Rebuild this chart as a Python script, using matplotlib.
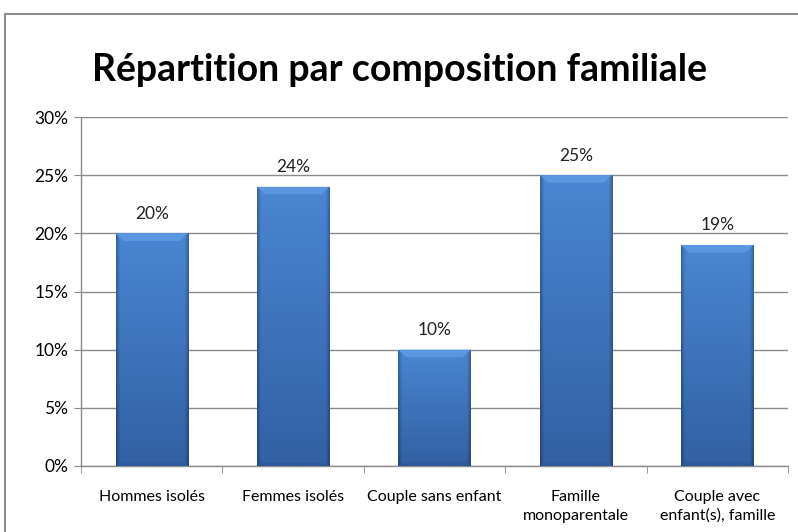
import matplotlib
matplotlib.use("Agg")
import matplotlib.pyplot as plt
import numpy as np
from matplotlib.patches import Rectangle, Polygon
from matplotlib.ticker import FuncFormatter, MultipleLocator

categories = ["Hommes isolés", "Femmes isolés", "Couple sans enfant",
              "Famille\nmonoparentale", "Couple avec\nenfant(s), famille"]
values = [20, 24, 10, 25, 19]
title = "Répartition par composition familiale"

plt.rcParams['font.family'] = ['Lato', 'DejaVu Sans']

W, H = 798, 532
fig = plt.figure(figsize=(W / 100, H / 100), dpi=100)
fig.patch.set_facecolor("white")

# outer chart border (partially cropped)
fig.patches.append(Rectangle((5 / W, -0.1), 1.2, 1 - 14 / H + 0.1,
                             transform=fig.transFigure, fill=False,
                             edgecolor="#8c8c8c", linewidth=1.5))

ax = fig.add_axes([81 / W, 1 - 466 / H, (788 - 81) / W, (466 - 117) / H])
x = np.arange(len(categories))
bars = ax.bar(x, values, width=0.51, color="#3d74c0", zorder=3)

ax.set_xlim(-0.5, len(categories) - 0.5)
ax.set_ylim(0, 30)

# gradient fill for bars
ny, nx = 64, 64
tv = np.linspace(0, 1, ny)[:, None]       # 0 top, 1 bottom
th = np.linspace(-1, 1, nx)[None, :]
top_c = np.array([74, 134, 210]) / 255
bot_c = np.array([50, 96, 164]) / 255
base = top_c[None, None, :] * (1 - tv[..., None]) + bot_c[None, None, :] * tv[..., None]
edge = np.clip((np.abs(th) - 0.9) / 0.1, 0, 1)[..., None]
img = base * (1 - 0.25 * edge)
bev_h = 0.65   # bevel height in data units
bev_w = 0.055  # bevel inset in data units
for b in bars:
    b.set_facecolor("none")
    x0, y0 = b.get_x(), b.get_y()
    w, h = b.get_width(), b.get_height()
    im = ax.imshow(img, extent=[x0, x0 + w, y0, y0 + h], aspect="auto",
                   zorder=3, interpolation="bilinear")
    im.set_clip_path(b)
    top = y0 + h
    ax.add_patch(Polygon([(x0, top), (x0 + w, top), (x0 + w - bev_w, top - bev_h),
                          (x0 + bev_w, top - bev_h)], closed=True,
                         facecolor="#5e9ae2", edgecolor="none", zorder=4, alpha=0.9))
    ax.add_patch(Polygon([(x0, y0), (x0 + w, y0), (x0 + w - bev_w * 0.6, y0 + bev_h * 0.5),
                          (x0 + bev_w * 0.6, y0 + bev_h * 0.5)], closed=True,
                         facecolor="#2c5896", edgecolor="none", zorder=4, alpha=0.6))

# data labels
for xi, v in zip(x, values):
    ax.text(xi, v + 1.0, f"{v}%", ha="center", va="bottom", fontsize=12.5,
            color="#222222")

ax.yaxis.set_major_locator(MultipleLocator(5))
ax.yaxis.set_major_formatter(FuncFormatter(lambda v, p: f"{v:.0f}%"))
ax.grid(axis="y", color="#8a8a8a", linewidth=1, zorder=0)
ax.set_axisbelow(True)

ax.set_xticks(x)
ax.set_xticklabels(categories, fontsize=11.5, linespacing=1.45)
ax.set_xticks(np.arange(-0.5, len(categories)), minor=True)
ax.tick_params(axis="x", which="major", length=0, pad=17)
ax.tick_params(axis="x", which="minor", length=5, color="#8a8a8a")
ax.tick_params(axis="y", length=5, color="#8a8a8a", labelsize=12.5, pad=4)

for s in ["top", "right"]:
    ax.spines[s].set_visible(False)
for s in ["left", "bottom"]:
    ax.spines[s].set_color("#8a8a8a")
    ax.spines[s].set_linewidth(1)

fig.text(0.5, 1 - 70 / H, title, ha="center", va="center", fontsize=27,
         fontweight="bold", color="black")

fig.savefig("out.png", dpi=100)
